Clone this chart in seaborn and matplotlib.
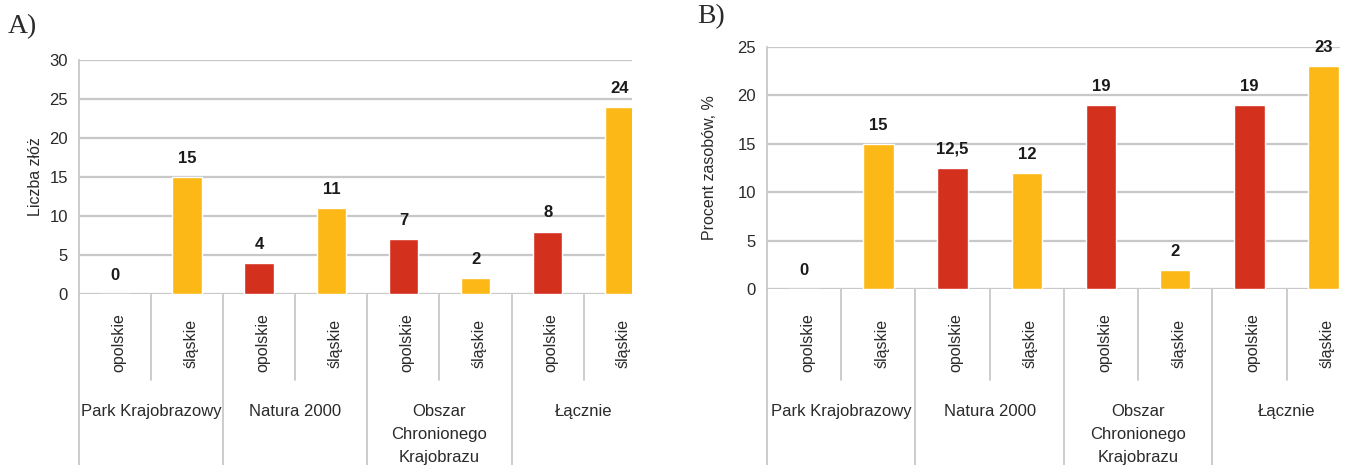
import pandas as pd
import matplotlib
matplotlib.use("Agg")
import matplotlib.pyplot as plt
import matplotlib.transforms as mtransforms
import seaborn as sns

groups = ["Park Krajobrazowy", "Natura 2000", "Obszar\nChronionego\nKrajobrazu", "Łącznie"]
regions = ["opolskie", "śląskie"]
count_opolskie = [0, 4, 7, 8]
count_slaskie = [15, 11, 2, 24]
pct_opolskie = [0, 12.5, 19, 19]
pct_slaskie = [15, 12, 2, 23]

RED = "#D3301E"
YELLOW = "#FCB817"
GRID = "#c8c8c8"
TXT = "#2a2a2a"

sns.set_style("white")
plt.rcParams['font.family'] = ['Liberation Sans', 'DejaVu Sans']

W, H = 1346, 465


def make_df(op, sl):
    rows = []
    for g, a, b in zip(groups, op, sl):
        rows.append({"slot": g + "|opolskie", "region": "opolskie", "value": a})
        rows.append({"slot": g + "|śląskie", "region": "śląskie", "value": b})
    return pd.DataFrame(rows)


def fmt(v):
    return f"{v:g}".replace(".", ",")


def panel(fig, rect, df, ymax, xright, ylabel, letter, letter_xy, ylabel_x):
    ax = fig.add_axes(rect)
    sns.barplot(data=df, x="slot", y="value", hue="region", dodge=False,
                palette={"opolskie": RED, "śląskie": YELLOW}, width=0.41,
                saturation=1, legend=False, ax=ax, zorder=3)
    ax.set_xlim(-0.5, xright)
    ax.set_ylim(0, ymax)
    ax.set_yticks(range(0, ymax + 1, 5))
    ax.yaxis.grid(True, color=GRID, linewidth=1.6, zorder=0)
    for s in ["top", "right", "bottom"]:
        ax.spines[s].set_visible(False)
    ax.spines["left"].set_color(GRID)
    ax.spines["left"].set_linewidth(1.3)
    ax.set_xticks([])
    ax.set_xlabel("")
    ax.tick_params(axis="y", length=4, width=1.3, color=GRID, labelsize=12,
                   labelcolor=TXT, pad=4)
    ax.set_ylabel(ylabel, fontsize=11.5, color=TXT)
    ax.yaxis.set_label_coords(ylabel_x, 0.5)

    # value labels above bars
    for i, v in enumerate(df["value"]):
        ax.annotate(fmt(v), (i, v), xytext=(0, 8), textcoords="offset points",
                    ha="center", va="bottom", fontsize=12, fontweight="bold", color="#1a1a1a")

    # category area below the axes
    tr = mtransforms.blended_transform_factory(ax.transData, fig.transFigure)
    y0 = rect[1]
    for k in range(len(df)):
        ax.text(k + 0.05, 1 - 343 / H, df["region"][k], rotation=90, transform=tr,
                ha="center", va="center", fontsize=11.5, color=TXT)
    for k in range(len(df) + 1):
        x = k - 0.5
        if x > xright:
            continue
        ybot = 0 if k % 2 == 0 else 1 - 380 / H
        ax.plot([x, x], [y0, ybot], transform=tr, color=GRID, lw=1.3, clip_on=False)
    for j, g in enumerate(groups):
        ax.text(2 * j + 0.5, 1 - 404 / H, g, transform=tr, ha="center", va="top",
                fontsize=12, color=TXT, linespacing=1.66)
    fig.text(letter_xy[0] / W, 1 - letter_xy[1] / H, letter, family="Liberation Serif",
             fontsize=20, ha="left", va="center", color=TXT)
    return ax


fig = plt.figure(figsize=(W / 100, H / 100), dpi=100)

panel(fig, [79 / W, (H - 294) / H, 553 / W, 234 / H],
      make_df(count_opolskie, count_slaskie), 30, 7.17, "Liczba złóż", "A)", (8, 27), -0.065)
panel(fig, [767 / W, (H - 289) / H, 573 / W, 242 / H],
      make_df(pct_opolskie, pct_slaskie), 25, 7.22, "Procent zasobów, %", "B)", (697, 17), -0.088)

fig.savefig("out.png", dpi=100)
